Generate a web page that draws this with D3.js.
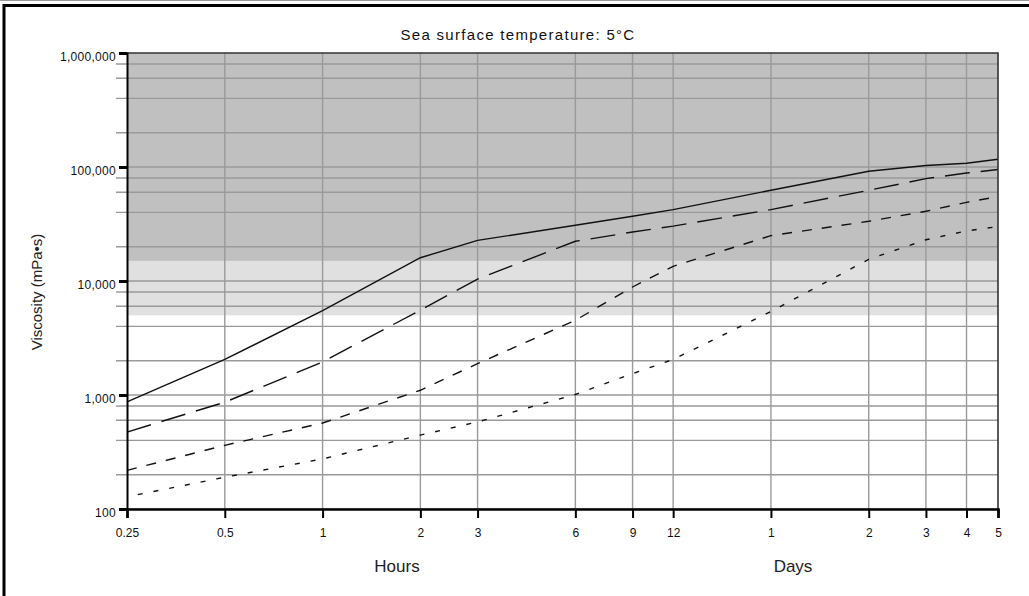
<!DOCTYPE html>
<meta charset="utf-8">
<title>viscosity</title>
<style>

body {
  margin: 0;
  background: #fff;
}

text {
  font-family: Arial, "Liberation Sans", sans-serif;
  fill: #111;
}

.grid line {
  stroke: #9a9a9a;
  stroke-width: 1.4;
}

.curve {
  fill: none;
  stroke: #111;
  stroke-width: 1.4;
}

</style>
<svg width="1029" height="596"></svg>
<script src="https://cdnjs.cloudflare.com/ajax/libs/d3/7.8.5/d3.min.js"></script>
<script>

// time in hours, labels switch to days after 12 h
var hours = [0.25, 0.5, 1, 2, 3, 6, 9, 12, 24, 48, 72, 96, 120];
var hourLabels = ["0.25", "0.5", "1", "2", "3", "6", "9", "12", "1", "2", "3", "4", "5"];

var yTicks = [100, 1000, 10000, 100000, 1000000];
var yTickLabels = ["100", "1,000", "10,000", "100,000", "1,000,000"];
var minorSteps = [2, 4, 6, 8];

// shaded viscosity bands (mPa·s)
var bandLight = [5000, 15000];
var bandDark = [15000, 1000000];

// viscosity read at each time in hours
var solidLine  = [870, 2050, 5500, 16000, 22700, 30800, 37000, 42300, 62500, 91700, 103000, 108000, 117000];
var longDash   = [473, 865, 1950, 5550, 10400, 22300, 26900, 30300, 42300, 62500, 79000, 88500, 95000];
var mediumDash = [218, 362, 568, 1100, 1885, 4520, 8860, 13450, 25000, 33400, 40900, 49000, 55000];
var shortDash  = [128, 190, 275, 445, 580, 1010, 1540, 2050, 5400, 15500, 23000, 27500, 30000];

var series = [
  {values: solidLine, dash: null, offset: 0},
  {values: longDash, dash: "25,11", offset: 0},
  {values: mediumDash, dash: "10,10", offset: 0},
  {values: shortDash, dash: "5,11", offset: 5}
];

var svg = d3.select("svg");

var x = d3.scaleLog()
    .domain([0.25, 120])
    .range([127, 998]);

var y = d3.scaleLog()
    .domain([100, 1000000])
    .range([509, 53]);

// outer frame (only left and top edges show)
svg.append("line")
    .attr("x1", 0).attr("x2", 1029)
    .attr("y1", 0.5).attr("y2", 0.5)
    .style("stroke", "#999");
svg.append("path")
    .attr("d", "M4,596V5.5H1029")
    .style("fill", "none")
    .style("stroke", "#000")
    .style("stroke-width", 3);

// bands
svg.append("rect")
    .attr("x", x(0.25))
    .attr("width", x(120) - x(0.25))
    .attr("y", y(bandDark[1]))
    .attr("height", y(bandDark[0]) - y(bandDark[1]))
    .style("fill", "#c0c0c0");

svg.append("rect")
    .attr("x", x(0.25))
    .attr("width", x(120) - x(0.25))
    .attr("y", y(bandLight[1]))
    .attr("height", y(bandLight[0]) - y(bandLight[1]))
    .style("fill", "#e0e0e0");

// horizontal grid, minor lines poke out left of the axis
var gridValues = [];
yTicks.slice(0, -1).forEach(function (d) {
  gridValues.push(d);
  minorSteps.forEach(function (m) { gridValues.push(d * m); });
});

var grid = svg.append("g").attr("class", "grid");

grid.selectAll(".hgrid")
    .data(gridValues)
  .enter().append("line")
    .attr("class", "hgrid")
    .attr("x1", function (d) { return yTicks.indexOf(d) === -1 ? 116 : x(0.25); })
    .attr("x2", x(120))
    .attr("y1", function (d) { return y(d); })
    .attr("y2", function (d) { return y(d); });

grid.selectAll(".vgrid")
    .data(hours.slice(1, -1))
  .enter().append("line")
    .attr("class", "vgrid")
    .attr("x1", function (d) { return x(d); })
    .attr("x2", function (d) { return x(d); })
    .attr("y1", y(1000000))
    .attr("y2", y(100));

// curves
var line = d3.line()
    .x(function (d, i) { return x(hours[i]); })
    .y(function (d) { return y(d); });

svg.append("g")
  .selectAll("path")
    .data(series)
  .enter().append("path")
    .attr("class", "curve")
    .attr("d", function (d) { return line(d.values); })
    .style("stroke-dasharray", function (d) { return d.dash; })
    .style("stroke-dashoffset", function (d) { return d.offset; });

// plot border
svg.append("path")
    .attr("d", "M" + x(0.25) + "," + y(1000000) + "H" + x(120) + "V" + y(100))
    .style("fill", "none")
    .style("stroke", "#333")
    .style("stroke-width", 1.6);

// y axis
var yAxis = svg.append("g")
    .attr("transform", "translate(" + x(0.25) + ",0)")
    .call(d3.axisLeft(y)
      .tickValues(yTicks)
      .tickSize(8)
      .tickPadding(3)
      .tickFormat(function (d, i) { return yTickLabels[i]; }));

yAxis.select(".domain").style("stroke", "#000").style("stroke-width", 2);
yAxis.selectAll(".tick line").style("stroke", "#000").style("stroke-width", 3);
yAxis.selectAll(".tick text")
    .attr("dy", "0.62em")
    .style("font-size", "12px")
    .style("letter-spacing", "0.3px")
    .style("font-family", "Arial, 'Liberation Sans', sans-serif")
    .style("fill", "#111");

// x axis
var xAxis = svg.append("g")
    .attr("transform", "translate(0," + y(100) + ")")
    .call(d3.axisBottom(x)
      .tickValues(hours)
      .tickSize(9)
      .tickPadding(10)
      .tickFormat(function (d, i) { return hourLabels[i]; }));

xAxis.select(".domain").style("stroke", "#000").style("stroke-width", 2.6);
xAxis.selectAll(".tick line").style("stroke", "#000").style("stroke-width", 2);
xAxis.selectAll(".tick text")
    .style("font-size", "12px")
    .style("font-family", "Arial, 'Liberation Sans', sans-serif")
    .style("fill", "#111");

// titles
svg.append("text")
    .attr("x", 518)
    .attr("y", 40)
    .style("text-anchor", "middle")
    .style("font-size", "15px")
    .style("letter-spacing", "1.3px")
    .text("Sea surface temperature: 5°C");

svg.append("text")
    .attr("transform", "translate(42,292) rotate(-90)")
    .style("text-anchor", "middle")
    .style("font-size", "15px")
    .style("fill", "#222")
    .text("Viscosity (mPa•s)");

svg.append("text")
    .attr("x", 397)
    .attr("y", 572)
    .style("text-anchor", "middle")
    .style("font-size", "17px")
    .style("fill", "#222")
    .text("Hours");

svg.append("text")
    .attr("x", 793)
    .attr("y", 572)
    .style("text-anchor", "middle")
    .style("font-size", "17px")
    .style("fill", "#222")
    .text("Days");

</script>
